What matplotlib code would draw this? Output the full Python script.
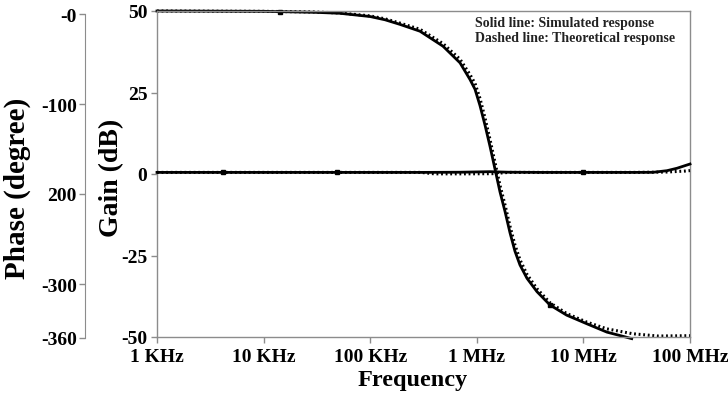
import matplotlib.pyplot as plt

# Respuesta en frecuencia: ganancia (dB) y fase (grados)
freq_sim = [1e3, 1e4, 1.43e4, 3e4, 5.2e4, 1e5, 1.38e5, 1.9e5, 2.93e5, 4.82e5,
            6.96e5, 8.63e5, 9.62e5, 1.071e6, 1.194e6, 1.33e6, 1.482e6, 1.651e6,
            1.84e6, 2.048e6, 2.281e6, 2.541e6, 2.958e6, 3.671e6, 4.864e6,
            6.97e6, 1.07e7, 1.66e7, 2.84e7]
gain_sim = [50, 49.9, 49.8, 49.6, 49.3, 48.3, 47.3, 45.9, 43.8, 39.2,
            34.1, 29.0, 26.0, 21.0, 15.0, 8.5, 1.5, -5.5,
            -11.5, -18.0, -23.7, -27.9, -32.0, -36.1, -40.2,
            -43.3, -45.9, -48.5, -50.5]

freq_teo = [1e3, 1e4, 3e4, 5.2e4, 1e5, 1.38e5, 1.9e5, 2.93e5, 4.82e5,
            6.96e5, 8.63e5, 9.62e5, 1.071e6, 1.194e6, 1.33e6, 1.482e6, 1.651e6,
            1.84e6, 2.048e6, 2.281e6, 2.541e6, 2.958e6, 3.671e6, 4.864e6,
            6.97e6, 1.07e7, 1.66e7, 2.9e7, 5e7, 1e8]
gain_teo = [50, 49.9, 49.7, 49.4, 48.5, 47.6, 46.3, 44.4, 40.0,
            35.2, 30.5, 27.8, 23.2, 17.2, 10.6, 3.5, -3.5,
            -9.5, -16.0, -21.8, -26.3, -30.8, -35.2, -39.5,
            -42.8, -45.4, -47.5, -49.0, -49.7, -49.6]

freq_fase_sim = [1e3, 4.2e3, 7.4e3, 4.9e4, 3e5, 7e5, 1.33e6, 2e6, 4e6, 1e7,
                 3e7, 4.5e7, 6.08e7, 7.55e7, 8.6e7, 1e8]
fase_sim = [-176, -176, -176, -176, -176, -175.8, -175.2, -175.8, -176, -176,
            -176, -175.9, -174.1, -171.4, -169.2, -166.7]

freq_fase_teo = [1e3, 1e5, 3e5, 4e5, 8e5, 1.4e6, 2e6, 5e6, 1e7, 3e7, 6e7, 9e7, 1e8]
fase_teo = [-176, -176, -176, -177.6, -177.6, -177.4, -176, -176, -176, -176,
            -175.6, -174.5, -174]

etiquetas_x = ["1 KHz", "10 KHz", "100 KHz", "1 MHz", "10 MHz", "100 MHz"]
ticks_x = [1e3, 1e4, 1e5, 1e6, 1e7, 1e8]
ticks_gain = [50, 25, 0, -25, -50]
ticks_fase = [0, -100, -200, -300, -360]
etiquetas_fase = ["-0", "-100", "200", "-300", "-360"]

plt.rcParams['font.family'] = ['Liberation Serif', 'DejaVu Serif']
plt.rcParams['font.weight'] = 'bold'
plt.rcParams['axes.unicode_minus'] = False

gris = '#8c8c8c'
punteado = (0, (0.6, 0.9))
fig = plt.figure(figsize=(7.28, 4.02), dpi=100)
ax = fig.add_axes([157 / 728, 1 - 338 / 402, 533 / 728, 326 / 402])

ax.plot(freq_sim, gain_sim, color='black', lw=2.0, clip_on=False,
        marker='s', ms=2.5, markevery=[2, 24])
ax.plot(freq_teo, gain_teo, color='black', lw=2.2, linestyle=punteado,
        clip_on=False)

ax.set_xscale('log')
ax.set_xlim(1e3, 1e8)
ax.set_ylim(-50, 50)
ax.set_xticks(ticks_x)
ax.set_xticklabels(etiquetas_x)
ax.minorticks_off()
ax.set_yticks(ticks_gain)
ax.tick_params(axis='both', colors=gris, labelcolor='black', labelsize=14,
               length=4, width=1, direction='out')
ax.tick_params(axis='y', pad=3)
ax.tick_params(axis='x', pad=4)
for s in ax.spines.values():
    s.set_color(gris)
    s.set_linewidth(1)

# la coordenada x de la etiqueta marca su borde derecho
ax.set_ylabel("Gain (dB)", fontsize=20, fontweight='bold')
ax.yaxis.set_label_coords((124 - 157) / 533, 0.49)
fig.text(413 / 728, 1 - 381 / 402, "Frequency", fontsize=17.5, fontweight='bold',
         ha='center', va='center')

# Eje de fase separado a la izquierda
ax2 = fig.add_axes([157 / 728, 1 - 339 / 402, 533 / 728, 324 / 402])
ax2.patch.set_visible(False)
ax2.plot(freq_fase_sim, fase_sim, color='black', lw=2.0, clip_on=False,
         marker='s', ms=2.5, markevery=[1, 3, 9])
ax2.plot(freq_fase_teo, fase_teo, color='black', lw=2.2, linestyle=punteado,
         clip_on=False)
ax2.set_xscale('log')
ax2.set_xlim(1e3, 1e8)
ax2.set_ylim(-360, 0)
ax2.set_xticks([])
ax2.minorticks_off()
for lado in ['top', 'right', 'bottom']:
    ax2.spines[lado].set_visible(False)
ax2.spines['left'].set_position(('outward', 72 * 0.72))
ax2.spines['left'].set_color(gris)
ax2.set_yticks(ticks_fase)
ax2.set_yticklabels(etiquetas_fase)
ax2.tick_params(axis='y', colors=gris, labelcolor='black', labelsize=14,
                length=4, width=1, direction='out', pad=2)
ax2.set_ylabel("Phase (degree)", fontsize=21, fontweight='bold')
ax2.yaxis.set_label_coords((31 - 157) / 533, 0.465)

fig.text(475 / 728, 1 - 17 / 402, "Solid line: Simulated response\nDashed line: Theoretical response",
         fontsize=10, fontweight='bold', color='#222222', ha='left', va='top',
         linespacing=1.2)

fig.savefig('out.png', dpi=100)
